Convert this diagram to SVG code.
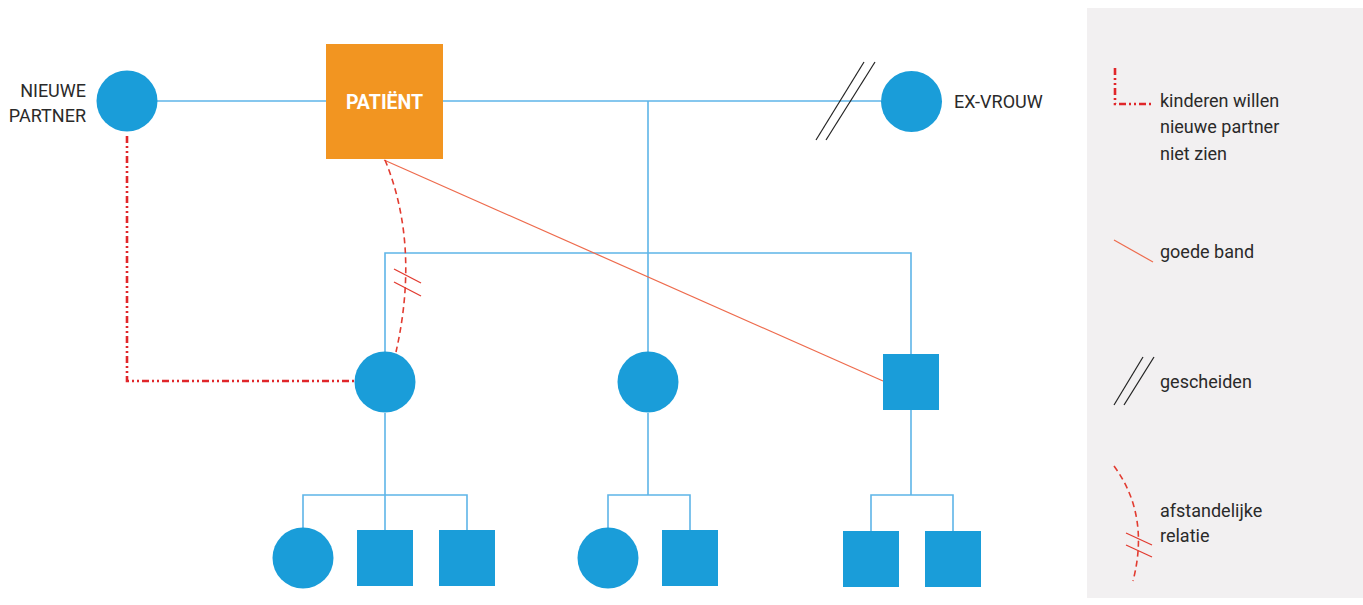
<svg xmlns="http://www.w3.org/2000/svg" width="1363" height="605" viewBox="0 0 1363 605">
<style>
.n{fill:#1A9DD9}
.c{fill:none;stroke:#5EB5E8;stroke-width:1.6}
.good{fill:none;stroke:#EE6B4D;stroke-width:1.2}
.dist{fill:none;stroke:#E23B30;stroke-width:1.6;stroke-dasharray:6 4}
.brk{fill:none;stroke:#E23B30;stroke-width:1.3}
.ddd{fill:none;stroke:#E0262A;stroke-width:2.6;stroke-dasharray:7 3 2 3 2 3}
.div{fill:none;stroke:#222;stroke-width:1.2}
.t{font-family:Roboto,"Liberation Sans",sans-serif;font-size:18px;fill:#2a2a2a}
</style>
<rect x="1087" y="8" width="276" height="590" fill="#F2F0F1"/>
<g id="connectors">
<line class="c" x1="157" y1="101" x2="881" y2="101"/>
<line class="c" x1="648" y1="101" x2="648" y2="352"/>
<polyline class="c" points="385,352 385,253 911,253 911,354"/>
<polyline class="c" points="385,413 385,495"/>
<polyline class="c" points="303,528 303,495 467,495 467,530"/>
<line class="c" x1="385" y1="495" x2="385" y2="530"/>
<polyline class="c" points="648,413 648,495"/>
<polyline class="c" points="608,528 608,495 690,495 690,530"/>
<polyline class="c" points="911,410 911,495"/>
<polyline class="c" points="871,531 871,495 953,495 953,531"/>
<line class="good" x1="384" y1="160" x2="883" y2="381"/>
<path class="dist" d="M385,160 Q420,245 396,352"/>
<line class="brk" x1="394" y1="269" x2="421" y2="283"/>
<line class="brk" x1="394" y1="282" x2="421" y2="296"/>
<polyline class="ddd" points="127,136 127,381 354,381"/>
<line class="div" x1="816" y1="140" x2="864" y2="62"/>
<line class="div" x1="826" y1="140" x2="875" y2="62"/>
</g>
<g id="nieuwe-partner">
<circle class="n" cx="127" cy="101" r="30.5"/>
<text class="t" x="86" y="97" text-anchor="end">NIEUWE</text>
<text class="t" x="86" y="122" text-anchor="end">PARTNER</text>
</g>
<g id="patient">
<rect x="326" y="44" width="117" height="115" fill="#F29521"/>
<text x="384.5" y="109" text-anchor="middle" font-family="Roboto,'Liberation Sans',sans-serif" font-size="19.5" font-weight="bold" fill="#fff">PATIËNT</text>
</g>
<g id="ex-vrouw">
<circle class="n" cx="911.5" cy="101.5" r="30.5"/>
<text class="t" x="954" y="108">EX-VROUW</text>
</g>
<g id="kind1"><circle class="n" cx="385" cy="382" r="30.5"/></g>
<g id="kind2"><circle class="n" cx="648" cy="382" r="30.5"/></g>
<g id="kind3"><rect class="n" x="883" y="354" width="56" height="56"/></g>
<g id="kleinkind1"><circle class="n" cx="303" cy="558" r="30.5"/></g>
<g id="kleinkind2"><rect class="n" x="357" y="530" width="56" height="56"/></g>
<g id="kleinkind3"><rect class="n" x="439" y="530" width="56" height="56"/></g>
<g id="kleinkind4"><circle class="n" cx="608" cy="558" r="30.5"/></g>
<g id="kleinkind5"><rect class="n" x="662" y="530" width="56" height="56"/></g>
<g id="kleinkind6"><rect class="n" x="843" y="531" width="56" height="56"/></g>
<g id="kleinkind7"><rect class="n" x="925" y="531" width="56" height="56"/></g>
<g id="legend">
<polyline class="ddd" points="1115,68 1115,104 1153,104"/>
<text class="t" x="1160" y="107">kinderen willen</text>
<text class="t" x="1160" y="133">nieuwe partner</text>
<text class="t" x="1160" y="160">niet zien</text>
<line class="good" x1="1114" y1="240" x2="1153" y2="262"/>
<text class="t" x="1160" y="258">goede band</text>
<line class="div" x1="1114" y1="405" x2="1143" y2="357"/>
<line class="div" x1="1124" y1="405" x2="1154" y2="357"/>
<text class="t" x="1160" y="388">gescheiden</text>
<path class="dist" d="M1114,466 Q1150,515 1133,581"/>
<line class="brk" x1="1126" y1="533" x2="1152" y2="545"/>
<line class="brk" x1="1126" y1="545" x2="1152" y2="557"/>
<text class="t" x="1160" y="517">afstandelijke</text>
<text class="t" x="1160" y="542">relatie</text>
</g>
</svg>
